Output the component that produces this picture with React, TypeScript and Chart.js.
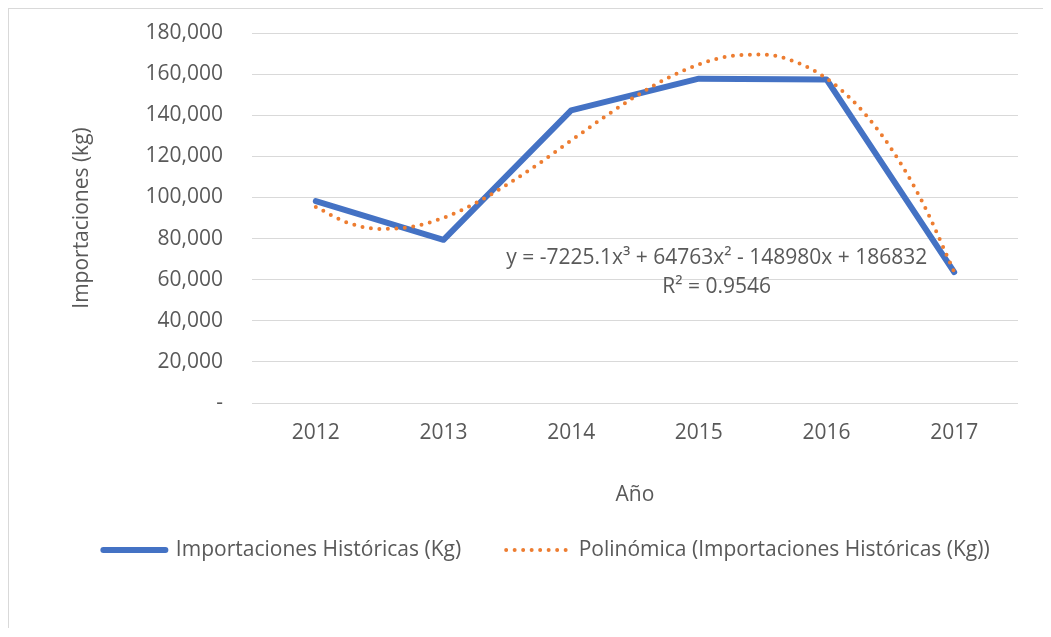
import React, { useEffect, useRef } from 'react';
import { Chart, registerables } from 'chart.js';

Chart.register(...registerables);

// ---- Data ----
const YEARS = [2012, 2013, 2014, 2015, 2016, 2017];
const IMPORTS_KG = [98200, 79400, 142400, 157800, 157400, 63700];

// Polynomial (3rd order) trendline, every quarter year
const TREND_X = [
  2012, 2012.25, 2012.5, 2012.75, 2013, 2013.25, 2013.5, 2013.75, 2014, 2014.25, 2014.5,
  2014.75, 2015, 2015.25, 2015.5, 2015.75, 2016, 2016.25, 2016.5, 2016.75, 2017,
];
const TREND_Y = [
  95400, 87700, 84700, 85700, 90100, 97200, 106300, 116600, 127700, 138700, 149000,
  157900, 164700, 168800, 169500, 166100, 157900, 144200, 124400, 97900, 63800,
];

const Y_MIN = 0;
const Y_MAX = 180000;
const Y_STEP = 20000;

const SERIES_LABEL = 'Importaciones Históricas (Kg)';
const TREND_LABEL = 'Polinómica (Importaciones Históricas (Kg))';
const TREND_EQUATION = 'y = -7225.1x³ + 64763x² - 148980x + 186832';
const TREND_R2 = 'R² = 0.9546';
const X_TITLE = 'Año';
const Y_TITLE = 'Importaciones (kg)';

// anchor of the trendline label, in data units
const TREND_LABEL_AT = { x: 2015.14, y: 70500 };

const TEXT = '#595959';
const GRID = '#d9d9d9';
const BLUE = '#4472C4';
const ORANGE = '#ED7D31';
const FONT = "'Open Sans', 'Noto Sans', sans-serif";
const FS = 21;

const trendLabelPlugin = {
  id: 'trendLabel',
  afterDatasetsDraw(chart: any) {
    const { ctx, scales } = chart;
    const cx = scales.x.getPixelForValue(TREND_LABEL_AT.x);
    const cy = scales.y.getPixelForValue(TREND_LABEL_AT.y);
    ctx.save();
    ctx.font = `${FS}px ${FONT}`;
    ctx.fillStyle = TEXT;
    ctx.textAlign = 'center';
    ctx.textBaseline = 'middle';
    ctx.fillText(TREND_EQUATION, cx, cy);
    ctx.fillText(TREND_R2, cx, cy + 29);
    ctx.restore();
  },
};

export default function App() {
  const ref = useRef<HTMLCanvasElement>(null);

  useEffect(() => {
    if (!ref.current) return;
    Chart.defaults.font.family = FONT;
    Chart.defaults.font.size = FS;
    Chart.defaults.color = TEXT;

    const baseGenerate = Chart.defaults.plugins.legend.labels.generateLabels;

    const chart = new Chart(ref.current, {
      type: 'line',
      data: {
        datasets: [
          {
            label: SERIES_LABEL,
            data: YEARS.map((yr, i) => ({ x: yr, y: IMPORTS_KG[i] })),
            borderColor: BLUE,
            backgroundColor: BLUE,
            borderWidth: 6,
            borderCapStyle: 'round',
            borderJoinStyle: 'round',
            pointRadius: 0,
            tension: 0,
            order: 1,
          },
          {
            label: TREND_LABEL,
            data: TREND_X.map((xv, i) => ({ x: xv, y: TREND_Y[i] })),
            borderColor: ORANGE,
            backgroundColor: ORANGE,
            borderWidth: 4,
            borderCapStyle: 'round',
            borderDash: [0, 8.5],
            pointRadius: 0,
            cubicInterpolationMode: 'monotone',
            order: 0,
          },
        ],
      },
      options: {
        animation: false,
        responsive: true,
        maintainAspectRatio: false,
        layout: { padding: { left: 41, right: 0, top: 24, bottom: 57.4 } },
        plugins: {
          legend: {
            position: 'bottom',
            labels: {
              usePointStyle: true,
              pointStyle: 'line',
              pointStyleWidth: 62,
              padding: 45,
              color: TEXT,
              font: { size: FS, family: FONT },
              sort: (a: any, b: any) => a.datasetIndex - b.datasetIndex,
              generateLabels: (c: any) =>
                baseGenerate(c).map((it: any) => {
                  const ds = c.data.datasets[it.datasetIndex];
                  return {
                    ...it,
                    lineDash: ds.borderDash || [],
                    lineCap: ds.borderCapStyle,
                    lineWidth: ds.borderWidth,
                    strokeStyle: ds.borderColor,
                  };
                }),
            },
          },
          tooltip: { enabled: false },
        },
        scales: {
          x: {
            type: 'linear',
            min: 2011.5,
            max: 2017.5,
            afterBuildTicks: (axis: any) => {
              axis.ticks = YEARS.map((v) => ({ value: v }));
            },
            grid: { display: false, drawTicks: false },
            border: { display: false },
            ticks: {
              padding: 17.4,
              color: TEXT,
              font: { size: FS, family: FONT },
              maxRotation: 0,
              autoSkip: false,
              callback: (v: any) => String(v),
            },
            title: {
              display: true,
              text: X_TITLE,
              color: TEXT,
              font: { size: FS, family: FONT },
              padding: { top: 19.4, bottom: -13 },
            },
          },
          y: {
            min: Y_MIN,
            max: Y_MAX,
            grid: {
              color: GRID,
              lineWidth: 1,
              drawTicks: true,
              tickLength: 29,
              tickColor: 'rgba(0,0,0,0)',
            },
            border: { display: false },
            ticks: {
              stepSize: Y_STEP,
              padding: 0,
              color: TEXT,
              font: { size: FS, family: FONT },
              callback: (v: any) => (Number(v) === 0 ? '-' : Number(v).toLocaleString('en-US')),
            },
            title: {
              display: true,
              text: Y_TITLE,
              color: TEXT,
              font: { size: FS, family: FONT },
              padding: { top: 19.4, bottom: 50.9 },
            },
          },
          yRightSpace: {
            type: 'linear',
            position: 'right',
            display: true,
            grid: { display: false, drawTicks: false },
            border: { display: false },
            ticks: { display: false },
            afterFit: (axis: any) => {
              axis.width = 25;
            },
          },
        },
      },
      plugins: [trendLabelPlugin],
    } as any);

    return () => chart.destroy();
  }, []);

  return (
    <div
      style={{
        borderTop: `1px solid ${GRID}`,
        borderLeft: `1px solid ${GRID}`,
        height: 619,
        position: 'relative',
      }}
    >
      <canvas ref={ref} />
    </div>
  );
}
